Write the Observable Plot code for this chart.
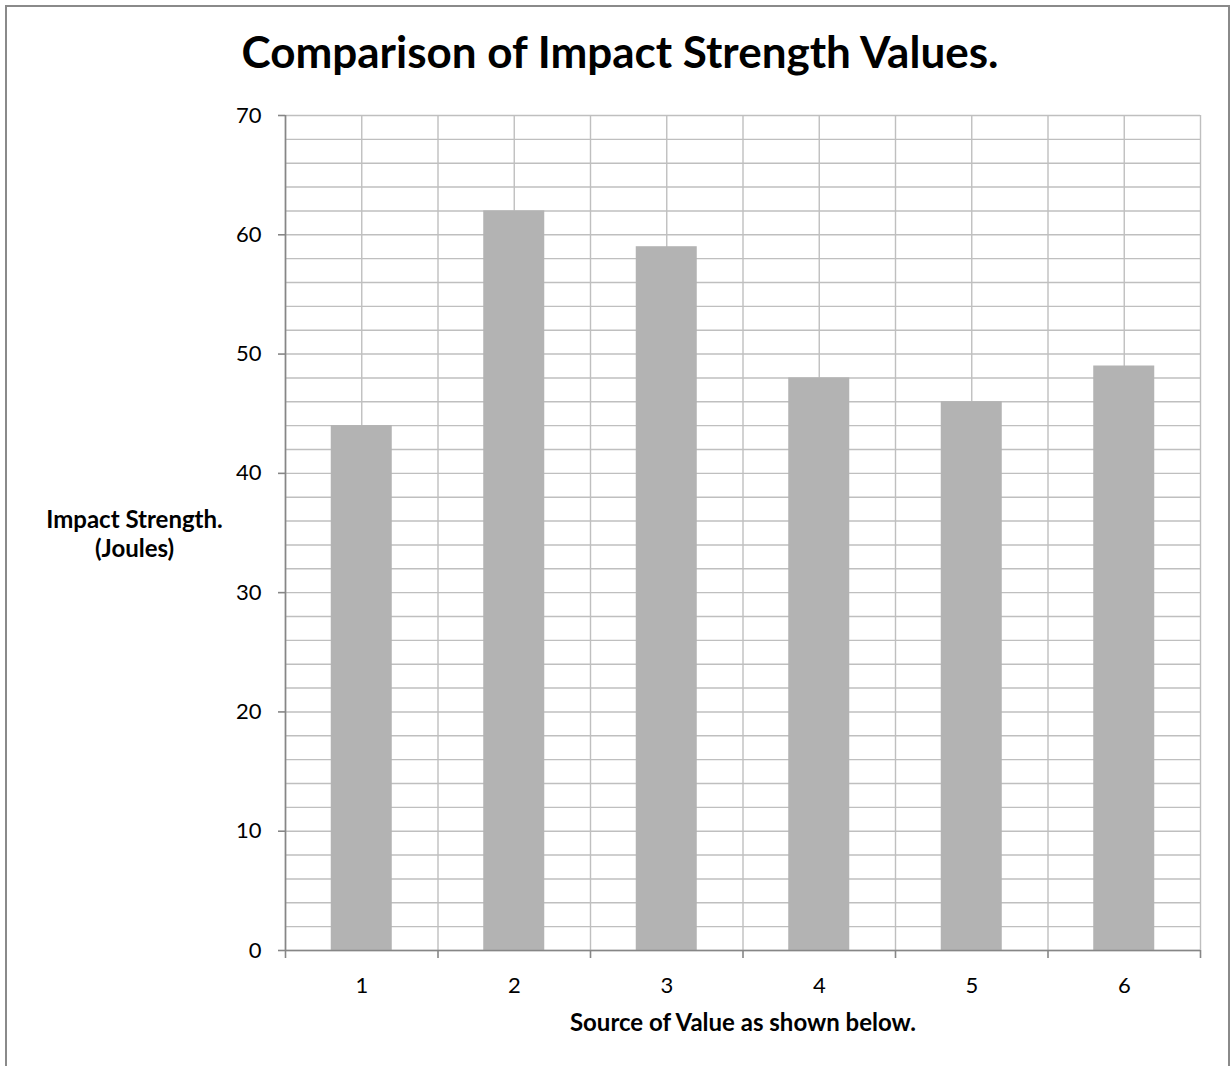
<!DOCTYPE html>
<html>
<head>
<meta charset="utf-8">
<script src="https://cdn.jsdelivr.net/npm/d3@7"></script>
<script src="https://cdn.jsdelivr.net/npm/@observablehq/plot@0.6"></script>
<style>
  html, body { margin: 0; padding: 0; background: #fff; }
  #wrap { position: relative; width: 1230px; height: 1066px; overflow: hidden; background: #fff; font-family: Lato, "Open Sans", sans-serif; }
  #frame { position: absolute; left: 5px; top: 5px; width: 1225px; height: 1200px; border: 2px solid #8a8a8a; box-sizing: border-box; }
  #title { position: absolute; left: 10px; width: 1220px; top: 29px; text-align: center; font-size: 44px; font-weight: 700; line-height: 1; color: #000; white-space: nowrap; }
  #chart { position: absolute; left: 0; top: 0; }
</style>
</head>
<body>
<div id="wrap">
  <div id="frame"></div>
  <div id="title">Comparison of Impact Strength Values.</div>
  <div id="chart"></div>
</div>
<script>
// Data
const categories = [1, 2, 3, 4, 5, 6];
const values = [44, 62, 59, 48, 46, 49];
const yTicks = [0, 10, 20, 30, 40, 50, 60, 70];
const yMinorGrid = [0, 2, 4, 6, 8, 10, 12, 14, 16, 18, 20, 22, 24, 26, 28, 30, 32, 34, 36, 38, 40, 42, 44, 46, 48, 50, 52, 54, 56, 58, 60, 62, 64, 66, 68, 70];
const xBoundaries = [0.5, 1.5, 2.5, 3.5, 4.5, 5.5, 6.5];
const xGrid = [0.5, 1, 1.5, 2, 2.5, 3, 3.5, 4, 4.5, 5, 5.5, 6, 6.5];
const yLabel = "Impact Strength.\n(Joules)";
const xLabel = "Source of Value as shown below.";

const data = categories.map((c, i) => ({ k: c, v: values[i] }));

const gridColor = "#bfbfbf";
const axisColor = "#868686";
const barColor = "#b3b3b3";

const chart = Plot.plot({
  width: 1230,
  height: 1066,
  marginLeft: 285,
  marginRight: 30,
  marginTop: 115,
  marginBottom: 116,
  style: { fontFamily: "Lato, 'Open Sans', sans-serif", background: "transparent", color: "#000", overflow: "visible" },
  x: { type: "linear", domain: [0.5, 6.5] },
  y: { domain: [0, 70] },
  marks: [
    Plot.ruleY(yMinorGrid, { stroke: gridColor, strokeWidth: 1.4 }),
    Plot.ruleX(xGrid, { stroke: gridColor, strokeWidth: 1.4 }),
    Plot.rectY(data, { x1: d => d.k - 0.2, x2: d => d.k + 0.2, y: "v", fill: barColor }),
    Plot.ruleY([0], { stroke: axisColor, strokeWidth: 1.6 }),
    Plot.ruleX([0.5], { stroke: axisColor, strokeWidth: 1.6 }),
    Plot.axisY({ ticks: yTicks, tickSize: 7, tickPadding: 17, stroke: axisColor, strokeWidth: 1.6, fontSize: 22, label: null, fill: "#000" }),
    Plot.axisX({ ticks: xBoundaries, tickSize: 8, tickFormat: () => "", stroke: axisColor, strokeWidth: 1.6, label: null }),
    Plot.axisX({ ticks: categories, tickSize: 0, tickPadding: 27, fontSize: 22, tickFormat: d => String(d), label: null, fill: "#000" }),
    Plot.text([yLabel], { frameAnchor: "left", dx: -151, dy: 0, text: d => d, fontSize: 24, fontWeight: "bold", textAnchor: "middle", lineAnchor: "middle", lineHeight: 1.22, fill: "#000" }),
    Plot.text([xLabel], { frameAnchor: "bottom", dy: 73, text: d => d, fontSize: 24, fontWeight: "bold", textAnchor: "middle", lineAnchor: "middle", fill: "#000" })
  ]
});
document.getElementById("chart").appendChild(chart);
</script>
</body>
</html>
